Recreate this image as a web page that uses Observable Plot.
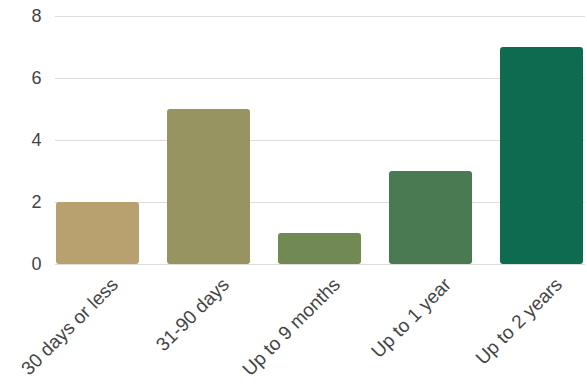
<!DOCTYPE html>
<html><head><meta charset="utf-8">
<script src="https://cdn.jsdelivr.net/npm/d3@7"></script>
<script src="https://cdn.jsdelivr.net/npm/@observablehq/plot@0.6"></script>
<style>body{margin:0;background:#fff;font-family:"Liberation Sans",Arial,sans-serif}</style>
</head><body><div id="chart"></div>
<script>
const categories = ["30 days or less", "31-90 days", "Up to 9 months", "Up to 1 year", "Up to 2 years"];
const counts = [2, 5, 1, 3, 7];
const colors = ["#b9a06f", "#979461", "#718a53", "#4a7a52", "#0f6b4f"];
const yTicks = [0, 2, 4, 6, 8];

const data = categories.map((c, i) => ({category: c, count: counts[i]}));

const chart = Plot.plot({
  width: 587,
  height: 387,
  marginTop: 16,
  marginLeft: 55,
  marginRight: 2,
  marginBottom: 123,
  style: {fontFamily: "'Liberation Sans', Arial, sans-serif", fontSize: "18px", color: "#444", background: "#fff"},
  x: {domain: categories, paddingInner: 0.25, paddingOuter: 0, label: null},
  y: {domain: [0, 8], label: null},
  color: {domain: categories, range: colors},
  marks: [
    Plot.ruleY(yTicks, {stroke: "#dcdcdc", strokeWidth: 1.2}),
    Plot.axisY({ticks: yTicks, tickSize: 0, tickPadding: 14, fontSize: 18, label: null}),
    Plot.axisX({tickSize: 0, tickPadding: 17, dx: 17, tickRotate: -45, fontSize: 19, label: null}),
    Plot.barY(data, {x: "category", y: "count", fill: "category", rx: 3})
  ]
});
document.getElementById("chart").appendChild(chart);
</script></body></html>
